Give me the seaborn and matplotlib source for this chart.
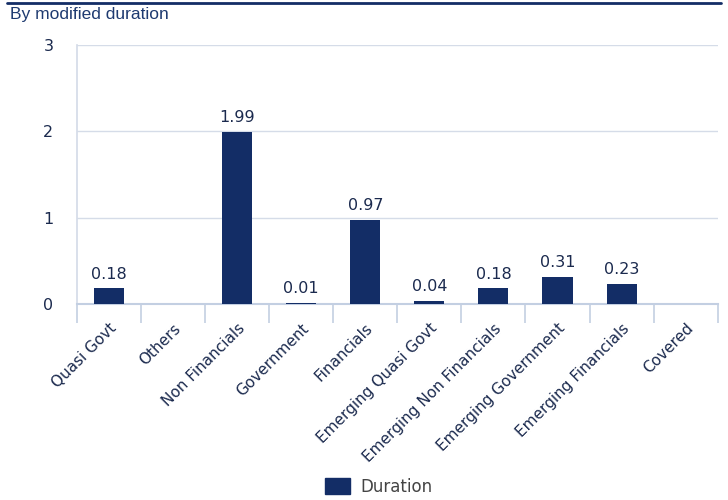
import numpy as np
import pandas as pd
import matplotlib
matplotlib.use("Agg")
import matplotlib.pyplot as plt
import seaborn as sns
from matplotlib.lines import Line2D

categories = ["Quasi Govt", "Others", "Non Financials", "Government", "Financials",
              "Emerging Quasi Govt", "Emerging Non Financials", "Emerging Government",
              "Emerging Financials", "Covered"]
duration = [0.18, np.nan, 1.99, 0.01, 0.97, 0.04, 0.18, 0.31, 0.23, np.nan]
series_name = "Duration"
yticks = [0, 1, 2, 3]
title = "By modified duration"

NAVY = "#132d66"
TEXT = "#1b2a4e"
GRID = "#d5dce8"
AXIS = "#c3cfe2"

sns.set_theme(style="white")
plt.rcParams['font.family'] = ['DejaVu Sans']

df = pd.DataFrame({"category": categories, "value": duration, "series": series_name})
df["plotted"] = df["value"].fillna(0.0)

fig = plt.figure(figsize=(7.28, 5.0), dpi=100)
ax = fig.add_axes([0.1058, 0.392, 0.880, 0.518])

sns.barplot(data=df, x="category", y="plotted", hue="series", palette=[NAVY],
            saturation=1, errorbar=None, width=0.47, linewidth=0, ax=ax,
            legend=False, zorder=3)

labels = ["" if np.isnan(v) else f"{v:.2f}" for v in duration]
for cont in ax.containers:
    ax.bar_label(cont, labels=labels, padding=5, fontsize=11.5, color=TEXT)

ax.set_ylim(0, 3)
ax.set_xlim(-0.5, len(categories) - 0.5)
ax.set_yticks(yticks)
ax.set_yticklabels([str(t) for t in yticks], fontsize=11.5, color=TEXT)
ax.tick_params(axis="y", length=0, pad=17)
ax.yaxis.grid(True, color=GRID, linewidth=1, zorder=0)
ax.set_axisbelow(True)

ax.set_xticks(range(len(categories)))
ax.set_xticklabels(categories, rotation=45, ha="right", rotation_mode="anchor",
                   fontsize=11, color=TEXT)
ax.tick_params(axis="x", which="major", length=0, pad=12, bottom=False)
ax.set_xticks(np.arange(-0.5, len(categories), 1.0), minor=True)
ax.tick_params(axis="x", which="minor", length=14, width=1.2, color=AXIS,
               direction="out", bottom=True)

for s in ["top", "right"]:
    ax.spines[s].set_visible(False)
ax.spines["left"].set_color(GRID)
ax.spines["bottom"].set_color(AXIS)
ax.spines["bottom"].set_linewidth(1.5)
ax.set_xlabel("")
ax.set_ylabel("")

fig.add_artist(Line2D([0.01, 0.99], [0.994, 0.994], color=NAVY, linewidth=2,
                      transform=fig.transFigure))
fig.text(0.014, 0.971, title, fontsize=12.5, color="#1e3a70", va="center", ha="left",
         family=["Liberation Sans"])

handle = plt.Rectangle((0, 0), 1, 1, color=NAVY)
fig.legend([handle], [series_name], loc="center", bbox_to_anchor=(0.52, 0.027),
           frameon=False, fontsize=12, labelcolor="#444444", handlelength=1.5,
           handleheight=1.1, handletextpad=0.6)

fig.savefig("out.png", dpi=100)
